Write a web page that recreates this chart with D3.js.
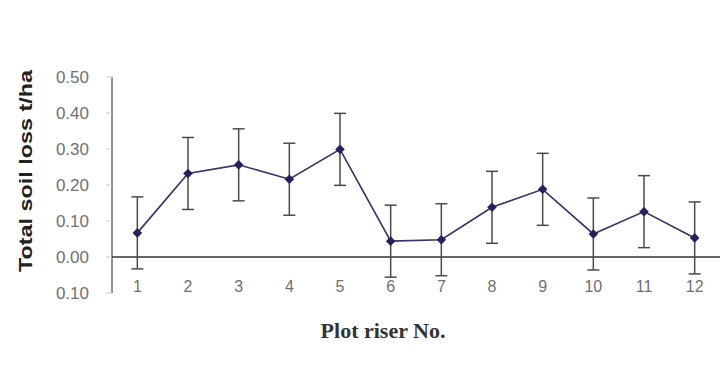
<!DOCTYPE html>
<html><head><meta charset="utf-8">
<script src="https://cdn.jsdelivr.net/npm/d3@7"></script>
<style>body{margin:0;background:#fff}svg{display:block}</style>
</head><body>
<svg id="c" width="723" height="367"></svg>
<script>
const categories = ["1","2","3","4","5","6","7","8","9","10","11","12"];
const values = [0.067, 0.232, 0.256, 0.216, 0.299, 0.044, 0.048, 0.138, 0.188, 0.064, 0.126, 0.053];
const errors = [0.10, 0.10, 0.10, 0.10, 0.10, 0.10, 0.10, 0.10, 0.10, 0.10, 0.10, 0.10];
const yTicks = [0.5, 0.4, 0.3, 0.2, 0.1, 0, -0.1];
const yTickLabels = ["0.50","0.40","0.30","0.20","0.10","0.00","0.10"];

const svg = d3.select("#c");
const x = d3.scaleBand().domain(categories).range([112, 720]);
const y = d3.scaleLinear().domain([-0.1, 0.5]).range([293, 77]);
const cx = d => x(d) + x.bandwidth()/2;

// y axis line
svg.append("line").attr("x1",112).attr("x2",112).attr("y1",y(0.5)).attr("y2",y(-0.1))
  .attr("stroke","#777").attr("stroke-width",1.6);
// small ticks
svg.selectAll(".yt").data(yTicks).join("line")
  .attr("x1",106).attr("x2",112).attr("y1",d=>y(d)).attr("y2",d=>y(d))
  .attr("stroke","#ccc").attr("stroke-width",1);
// tick labels
svg.selectAll(".yl").data(yTicks).join("text")
  .attr("x",89).attr("y",d=>y(d)).attr("dy","0.36em")
  .attr("text-anchor","end").attr("font-family","Liberation Sans, Arial, sans-serif")
  .attr("font-size",17).attr("fill","#707070")
  .text((d,i)=>yTickLabels[i]);
// zero line
svg.append("line").attr("x1",112).attr("x2",720).attr("y1",y(0)).attr("y2",y(0))
  .attr("stroke","#333").attr("stroke-width",1.5);
// x labels
svg.selectAll(".xl").data(categories).join("text")
  .attr("x",d=>cx(d)).attr("y",292).attr("text-anchor","middle")
  .attr("font-family","Liberation Sans, Arial, sans-serif").attr("font-size",16)
  .attr("fill","#707070").text(d=>d);

// error bars
const eb = svg.append("g").attr("stroke","#4a4a4a").attr("stroke-width",1.5);
categories.forEach((c,i)=>{
  const lo = y(values[i]-errors[i]), hi = y(values[i]+errors[i]);
  eb.append("line").attr("x1",cx(c)).attr("x2",cx(c)).attr("y1",hi).attr("y2",lo);
  eb.append("line").attr("x1",cx(c)-6).attr("x2",cx(c)+6).attr("y1",hi).attr("y2",hi);
  eb.append("line").attr("x1",cx(c)-6).attr("x2",cx(c)+6).attr("y1",lo).attr("y2",lo);
});

// line
const line = d3.line().x((d,i)=>cx(categories[i])).y(d=>y(d));
svg.append("path").datum(values).attr("d",line).attr("fill","none")
  .attr("stroke","#3a3068").attr("stroke-width",1.6);
// markers
svg.selectAll(".m").data(values).join("path")
  .attr("d", d3.symbol(d3.symbolSquare, 46))
  .attr("transform",(d,i)=>`translate(${cx(categories[i])},${y(d)}) rotate(45)`)
  .attr("fill","#2a1f5a");

// titles
svg.append("text").attr("transform","translate(32,171) rotate(-90)")
  .attr("text-anchor","middle").attr("font-family","Liberation Sans, Arial, sans-serif")
  .attr("font-weight","bold").attr("font-size",19).attr("fill","#222")
  .attr("textLength",202).attr("lengthAdjust","spacingAndGlyphs")
  .text("Total soil loss t/ha");
svg.append("text").attr("x",383).attr("y",338).attr("text-anchor","middle")
  .attr("font-family","Liberation Serif, Times New Roman, serif")
  .attr("font-weight","bold").attr("font-size",22).attr("fill","#333")
  .text("Plot riser No.");
</script>
</body></html>
